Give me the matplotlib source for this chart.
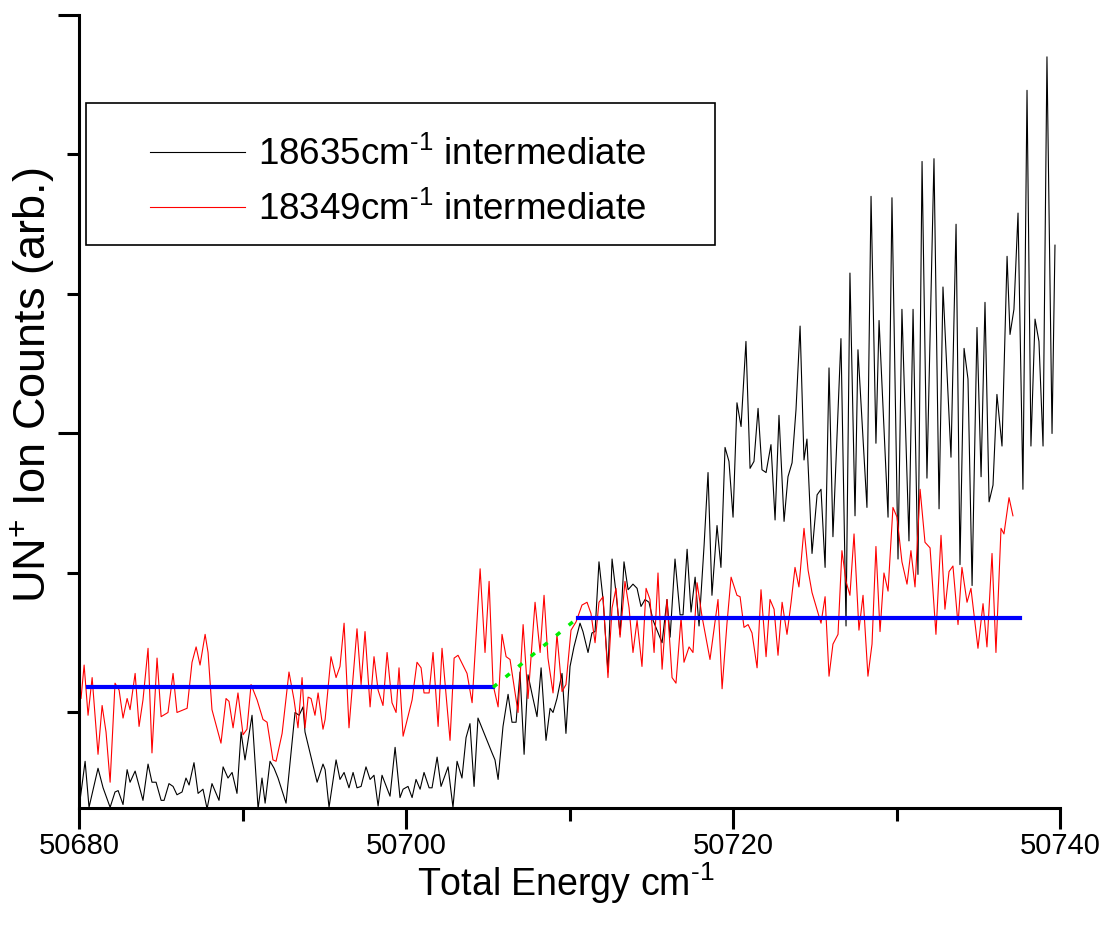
import numpy as np
import matplotlib
matplotlib.use("Agg")
import matplotlib.pyplot as plt
from matplotlib.patches import Rectangle
from matplotlib.ticker import MultipleLocator

plt.rcParams["font.family"] = ["Liberation Sans", "DejaVu Sans"]
plt.rcParams["mathtext.fontset"] = "custom"
plt.rcParams["mathtext.rm"] = "Liberation Sans"
plt.rcParams["mathtext.it"] = "Liberation Sans:italic"

E0 = 50680.0

# 18635 cm-1 intermediate (black): energy offset from E0, counts (arb.)
black_offset = [
    0.06, 0.37, 0.61, 1.16, 1.47, 1.90, 2.20, 2.39, 2.69, 2.94, 3.12, 3.43, 3.91, 4.22,
    4.46, 4.71, 5.02, 5.20, 5.50, 5.75, 5.99, 6.30, 6.54, 6.73, 7.03, 7.28, 7.58, 7.83,
    8.13, 8.56, 8.81, 9.11, 9.36, 9.66, 9.91, 10.15, 10.58, 10.95, 11.19, 11.38, 11.68,
    11.93, 12.17, 12.66, 13.21, 13.46, 13.70, 13.82, 14.19, 14.56, 14.92, 15.05, 15.29,
    15.72, 15.96, 16.21, 16.51, 16.76, 17.00, 17.25, 17.55, 17.80, 18.04, 18.29, 18.53,
    19.02, 19.33, 19.63, 19.82, 20.12, 20.37, 20.61, 20.86, 21.10, 21.41, 21.59, 21.90,
    22.14, 22.57, 22.87, 23.12, 23.42, 23.67, 23.91, 24.16, 24.40, 24.95, 25.26, 25.44,
    25.63, 25.93, 26.24, 26.48, 26.73, 26.97, 27.22, 27.46, 27.71, 28.01, 28.26, 28.56,
    28.81, 28.99, 29.23, 29.54, 29.78, 30.03, 30.27, 30.64, 30.82, 31.13, 31.37, 31.56,
    31.80, 32.05, 32.35, 32.60, 32.84, 33.09, 33.33, 33.58, 33.88, 34.13, 34.37, 34.62,
    34.86, 35.11, 35.66, 35.96, 36.15, 36.45, 36.76, 36.94, 37.19, 37.43, 37.68, 37.92,
    38.23, 38.47, 38.71, 39.02, 39.26, 39.51, 39.75, 40.00, 40.24, 40.49, 40.79, 41.04,
    41.28, 41.53, 41.77, 42.02, 42.32, 42.57, 42.81, 43.12, 43.36, 43.61, 43.85, 44.10,
    44.34, 44.52, 44.83, 45.14, 45.38, 45.63, 45.87, 46.11, 46.60, 46.91, 47.15, 47.46,
    47.64, 48.19, 48.44, 48.74, 48.93, 49.48, 49.72, 50.09, 50.33, 50.76, 51.01, 51.31,
    51.56, 51.86, 52.29, 52.60, 52.84, 53.33, 53.64, 53.88, 54.13, 54.37, 54.62, 54.92,
    55.17, 55.41, 55.66, 55.90, 56.14, 56.45, 56.76, 56.94, 57.18, 57.43, 57.73, 57.98,
    58.22, 58.47, 58.71, 58.96, 59.20, 59.51, 59.69,
]
black_counts = [
    3.7, 6.5, 3.2, 6.0, 4.6, 3.2, 4.3, 4.4, 3.4, 5.9, 5.0, 5.8, 3.7, 6.3,
    5.0, 5.0, 3.7, 3.7, 4.9, 4.7, 4.1, 4.3, 5.3, 4.8, 6.4, 4.2, 4.5, 3.1,
    4.9, 3.7, 6.1, 5.3, 5.7, 4.2, 8.6, 6.6, 9.8, 3.1, 5.3, 3.5, 6.5,
    6.0, 5.3, 3.5, 10.0, 9.8, 10.4, 8.6, 6.8, 5.0, 6.3, 5.9, 3.2,
    6.6, 5.2, 5.7, 4.6, 5.7, 4.6, 4.7, 6.1, 5.2, 5.5, 3.3, 5.5,
    4.0, 7.5, 3.9, 4.5, 4.7, 3.9, 5.2, 4.5, 5.7, 4.6, 4.6, 6.8,
    4.7, 6.1, 3.2, 6.5, 5.3, 8.2, 9.2, 4.7, 9.6, 8.0, 7.1, 6.6,
    5.2, 9.0, 11.3, 9.3, 9.3, 12.9, 7.0, 12.7, 11.3, 9.7, 13.2, 8.0,
    10.3, 10.0, 11.0, 12.8, 8.5, 13.3, 14.7, 16.4, 15.8, 14.3, 15.7, 15.8,
    20.8, 18.1, 12.9, 21.0, 18.6, 15.6, 20.8, 18.8, 19.2, 18.9, 17.6, 18.1,
    17.9, 16.6, 15.0, 18.1, 15.4, 21.0, 17.0, 17.0, 21.7, 17.2, 19.7, 16.2,
    22.0, 27.2, 18.4, 23.4, 20.4, 29.0, 28.0, 24.0, 32.2, 30.5, 36.6, 27.5,
    28.0, 31.8, 27.4, 27.2, 29.2, 23.8, 31.3, 23.7, 26.9, 27.9, 31.7, 37.7,
    28.1, 29.6, 21.4, 25.6, 26.0, 20.4, 34.7, 22.6, 36.8, 16.2, 41.5, 24.1,
    36.0, 24.7, 47.0, 29.3, 38.1, 24.0, 46.9, 21.0, 38.9, 22.3, 38.9, 19.9,
    49.5, 26.8, 49.7, 24.6, 40.5, 28.3, 45.0, 20.6, 36.1, 33.9, 19.1, 37.6,
    26.9, 39.4, 25.1, 26.3, 32.8, 29.1, 42.7, 37.1, 38.9, 45.8, 26.0, 54.6,
    29.1, 38.2, 36.6, 29.1, 57.0, 30.0, 43.5,
]

# 18349 cm-1 intermediate (red)
red_offset = [
    0.00, 0.12, 0.31, 0.55, 0.80, 1.16, 1.41, 1.65, 1.90, 2.20, 2.45, 2.69, 2.94, 3.12,
    3.43, 3.67, 3.91, 4.22, 4.46, 4.77, 5.02, 5.44, 5.75, 5.99, 6.61, 6.91, 7.16, 7.40,
    7.71, 7.89, 8.13, 8.68, 8.99, 9.17, 9.42, 9.72, 10.03, 10.27, 10.52, 10.89, 11.25,
    11.50, 11.86, 12.05, 12.42, 12.84, 13.15, 13.39, 13.64, 13.82, 14.01, 14.19, 14.43,
    14.62, 14.92, 15.05, 15.41, 15.72, 15.96, 16.21, 16.51, 17.00, 17.25, 17.49, 17.80,
    18.04, 18.29, 18.59, 18.84, 19.14, 19.39, 19.57, 19.82, 20.37, 20.67, 20.92, 21.10,
    21.41, 21.65, 21.96, 22.20, 22.69, 22.94, 23.18, 23.73, 24.04, 24.53, 24.83, 25.08,
    25.32, 25.63, 25.87, 26.12, 26.36, 26.85, 27.16, 27.46, 27.89, 28.20, 28.44, 28.68,
    28.99, 29.23, 29.54, 29.78, 30.09, 30.40, 30.76, 31.07, 31.31, 31.56, 31.80, 32.05,
    32.35, 32.60, 32.84, 33.09, 33.39, 33.64, 33.88, 34.13, 34.43, 34.68, 34.92, 35.17,
    35.41, 35.66, 35.96, 36.27, 36.51, 36.82, 37.00, 37.31, 37.55, 37.80, 38.10, 38.59,
    39.08, 39.33, 39.63, 39.88, 40.24, 40.43, 40.67, 40.92, 41.16, 41.47, 41.71, 42.02,
    42.26, 42.51, 42.75, 43.00, 43.30, 43.55, 43.79, 44.03, 44.34, 44.59, 44.83, 45.38,
    45.63, 45.87, 46.11, 46.42, 46.66, 46.91, 47.15, 47.40, 47.70, 47.95, 48.25, 48.50,
    48.74, 48.99, 49.23, 49.48, 49.78, 50.03, 50.33, 50.64, 50.88, 51.13, 51.44, 51.74,
    52.05, 52.41, 52.72, 52.96, 53.21, 53.45, 53.76, 54.00, 54.31, 54.55, 54.98, 55.29,
    55.53, 55.84, 56.08, 56.39, 56.57, 56.88, 57.12,
]
red_counts = [
    12.3, 11.0, 13.4, 9.8, 12.5, 7.0, 10.5, 8.6, 5.0, 12.1, 11.6, 9.6, 11.0, 10.2,
    12.8, 9.0, 10.9, 14.6, 7.1, 13.9, 9.7, 10.0, 12.8, 10.0, 10.3, 13.6, 14.7, 13.4,
    15.6, 14.3, 10.2, 7.8, 11.0, 10.8, 8.9, 11.4, 8.4, 8.8, 12.0, 10.9, 9.5,
    9.3, 6.6, 6.5, 8.5, 12.9, 10.9, 8.9, 12.5, 8.9, 11.1, 11.0, 9.8,
    11.4, 8.8, 9.5, 14.0, 12.5, 13.3, 16.4, 8.9, 16.0, 12.0, 15.8, 10.4,
    14.0, 11.6, 10.5, 14.3, 10.7, 10.0, 13.2, 8.3, 10.9, 13.6, 13.2, 11.4,
    11.4, 14.3, 9.0, 14.6, 8.0, 13.9, 14.1, 12.8, 10.7, 20.3, 14.3, 19.4,
    12.0, 10.4, 15.6, 14.0, 13.8, 10.0, 16.3, 11.0, 17.9, 14.3, 18.4, 13.9,
    11.4, 15.6, 11.5, 12.0, 15.9, 16.5, 17.7, 17.9, 17.1, 15.0, 17.9, 18.3,
    12.5, 17.5, 18.9, 15.4, 19.4, 17.5, 14.3, 16.6, 13.3, 18.9, 18.1, 14.3,
    20.0, 13.1, 18.1, 12.5, 12.1, 16.8, 13.6, 14.7, 14.3, 19.3, 16.9, 13.8,
    18.1, 11.7, 16.4, 19.7, 18.4, 18.3, 16.1, 16.3, 15.7, 13.2, 18.8, 14.0,
    18.1, 17.4, 14.1, 17.9, 15.6, 17.9, 20.4, 19.0, 23.2, 20.2, 18.6, 16.4,
    18.3, 12.6, 14.9, 15.6, 21.6, 19.4, 18.4, 22.8, 15.9, 18.4, 12.6, 14.9,
    21.9, 15.8, 20.0, 18.7, 24.7, 24.0, 20.8, 19.2, 21.6, 19.0, 26.0, 22.2,
    21.8, 15.6, 22.7, 17.4, 20.1, 20.5, 16.3, 20.4, 17.9, 18.9, 14.6, 17.8,
    14.7, 21.4, 14.3, 23.2, 22.8, 25.4, 24.1,
]

# step fit: two flat levels (start offset, end offset, counts) and the ramp between them
low_level = (0.55, 25.32, 11.8)
high_level = (30.52, 57.55, 16.8)

black_x = E0 + np.array(black_offset)
red_x = E0 + np.array(red_offset)

fig = plt.figure(figsize=(11.01, 9.26), dpi=100)
ax = fig.add_axes([0.0718, 0.1274, 0.891, 0.8564])

sup = "\u2010" + "1"
ax.plot(black_x, black_counts, color="black", lw=0.8,
        label="18635cm$^{" + sup + "}$ intermediate")
ax.plot(red_x, red_counts, color="red", lw=0.8,
        label="18349cm$^{" + sup + "}$ intermediate")

ax.plot([E0 + low_level[0], E0 + low_level[1]], [low_level[2]] * 2, color="blue", lw=3)
ax.plot([E0 + high_level[0], E0 + high_level[1]], [high_level[2]] * 2, color="blue", lw=3)
ax.plot([E0 + low_level[1], E0 + high_level[0]], [low_level[2], high_level[2]],
        color="#00ee00", lw=2.5, dashes=(1.5, 3.2))

ax.set_xlim(50680, 50740)
ax.set_ylim(3.15, 60)

for side in ("top", "right"):
    ax.spines[side].set_visible(False)
for side in ("left", "bottom"):
    ax.spines[side].set_linewidth(2.2)

ax.xaxis.set_major_locator(MultipleLocator(20))
ax.xaxis.set_minor_locator(MultipleLocator(10))
ax.set_yticks([30, 60])
ax.set_yticks([10, 20, 40, 50], minor=True)
ax.set_yticklabels([])
ax.tick_params(which="major", length=15, width=2.2, direction="out", labelsize=21, pad=2)
ax.tick_params(which="minor", length=9, width=2.2, direction="out")

ax.set_xlabel("Total Energy cm$^{" + sup + "}$", fontsize=27)
ax.xaxis.set_label_coords(0.496, -0.066)
ax.set_ylabel("UN$^{+}$ Ion Counts (arb.)", fontsize=32.5)
ax.yaxis.set_label_coords(-0.023, 0.533)

# legend frame drawn separately so its margins match the original
ax.add_patch(Rectangle((0.0071, 0.710), 0.641, 0.179, transform=ax.transAxes,
                       fill=False, edgecolor="black", lw=1.2, zorder=4))
leg = ax.legend(loc="upper left", bbox_to_anchor=(0.072, 0.847), borderaxespad=0,
                borderpad=0, fontsize=26.5, frameon=False,
                handlelength=2.6, handletextpad=0.35, labelspacing=0.53)
for line in leg.get_lines():
    line.set_linewidth(0.8)

fig.savefig("out.png", dpi=100)
